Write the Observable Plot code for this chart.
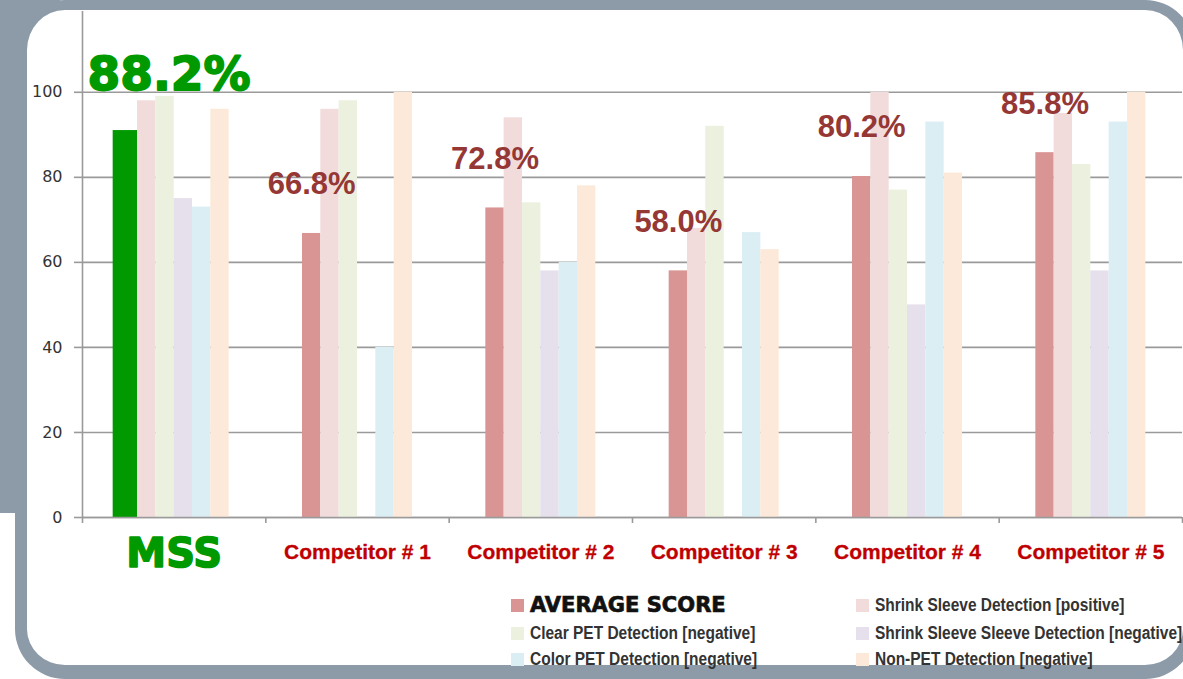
<!DOCTYPE html>
<html>
<head>
<meta charset="utf-8">
<script src="https://cdn.jsdelivr.net/npm/d3@7"></script>
<script src="https://cdn.jsdelivr.net/npm/@observablehq/plot@0.6"></script>
<style>
  html, body { margin: 0; padding: 0; background: #fff; }
  #page { position: relative; width: 1183px; height: 679px; overflow: hidden; background: #fff; }
  #block { position: absolute; left: 0; top: 0; width: 60px; height: 513px; background: #8d9ba8; }
  #panel { position: absolute; left: 15px; top: 0; width: 1180px; height: 679px; box-sizing: border-box;
           border: 12px solid #8d9ba8; border-top-width: 10px; border-bottom-width: 14px;
           border-radius: 50px; background: #fff; }
  #chart { position: absolute; left: 0; top: 0; }
  #legend { position: absolute; left: 0; top: 0; width: 1183px; height: 679px; pointer-events: none; }
  .item { position: absolute; display: flex; align-items: center; height: 22px; white-space: nowrap;
          font-family: "Liberation Sans", Arial, sans-serif; font-weight: bold;
          font-size: 18px; color: #333; }
  .item .tx { display: inline-block; transform: scaleX(0.86); transform-origin: left center; }
  .sw { width: 13px; height: 13px; margin-right: 6px; flex: none; }
  .item.main { font-family: "DejaVu Sans", sans-serif; font-size: 21px; color: #111; -webkit-text-stroke: 0.7px #111; }
  .item.main .tx { transform: none; }
</style>
</head>
<body>
<div id="page">
  <div id="block"></div>
  <div id="panel"></div>
  <div id="chart"></div>
  <div id="legend"></div>
</div>
<script>
// ---- data ----
const categories = ["MSS", "Competitor # 1", "Competitor # 2", "Competitor # 3", "Competitor # 4", "Competitor # 5"];
const seriesNames = [
  "AVERAGE SCORE",
  "Shrink Sleeve Detection [positive]",
  "Clear PET Detection [negative]",
  "Shrink Sleeve Sleeve Detection [negative]",
  "Color PET Detection [negative]",
  "Non-PET Detection [negative]"
];
const averageScore   = [91, 66.8, 72.8, 58.0, 80.2, 85.8];
const shrinkPositive = [98, 96, 94, 68, 100, 95];
const clearPet       = [99, 98, 74, 92, 77, 83];
const shrinkNegative = [75, 0, 58, 0, 50, 58];
const colorPet       = [73, 40, 60, 67, 93, 93];
const nonPet         = [96, 100, 78, 63, 81, 100];
const scoreLabels    = ["88.2%", "66.8%", "72.8%", "58.0%", "80.2%", "85.8%"];
const yTicks         = [0, 20, 40, 60, 80, 100];

// ---- styles ----
const seriesColors = ["#d99594", "#f2dcdb", "#ebf1de", "#e5e0ec", "#dbeef4", "#fde9d9"];
const mssGreen = "#009a00";
const labelRed = "#c00000";
const scoreRed = "#953735";
const gridGray = "#9a9a9a";

const seriesValues = [averageScore, shrinkPositive, clearPet, shrinkNegative, colorPet, nonPet];
const nSeries = seriesNames.length;
const groupPad = 0.2;                     // fraction of a category left empty on each side
const barW = (1 - 2 * groupPad) / nSeries;

const rows = [];
categories.forEach((cat, ci) => {
  seriesNames.forEach((s, si) => {
    rows.push({
      cat, ci, si, series: s,
      value: seriesValues[si][ci],
      key: (ci === 0 && si === 0) ? "MSS" : s
    });
  });
});
const x1 = d => d.ci + groupPad + d.si * barW;
const x2 = d => d.ci + groupPad + (d.si + 1) * barW;
const isMssAvg = d => d.ci === 0 && d.si === 0;

const labelRows = categories.map((cat, ci) => ({ci, cat, label: scoreLabels[ci], value: averageScore[ci]}));

const chart = Plot.plot({
  width: 1183,
  height: 580,
  marginLeft: 82,
  marginRight: 1,
  marginTop: 11,
  marginBottom: 63,
  x: {type: "linear", domain: [0, categories.length]},
  y: {domain: [0, 119]},
  color: {domain: [...seriesNames, "MSS"], range: [...seriesColors, mssGreen]},
  style: {background: "transparent", overflow: "visible"},
  marks: [
    Plot.gridY(yTicks, {stroke: gridGray, strokeOpacity: 1, strokeWidth: 1.6}),
    Plot.rectY(rows.filter(d => d.value > 0 && !isMssAvg(d)), {x1, x2, y: "value", fill: "key"}),
    Plot.rectY(rows.filter(isMssAvg), {x1, x2, y: "value", fill: "key", insetLeft: -6}),
    Plot.ruleY([0], {stroke: gridGray, strokeWidth: 1.6}),
    Plot.ruleX([0], {y1: 0, y2: 119, stroke: gridGray, strokeWidth: 1.6}),
    Plot.axisY(yTicks, {tickSize: 8, tickPadding: 12, stroke: gridGray, strokeWidth: 1.6, label: null,
      fill: "#333", fontSize: 16, fontFamily: "DejaVu Sans", tickFormat: d => String(d)}),
    Plot.axisX(d3.range(categories.length + 1), {tickSize: 6, stroke: gridGray, strokeWidth: 1.6,
      label: null, tickFormat: () => ""}),
    // category labels
    Plot.text(labelRows.filter(d => d.ci > 0), {x: d => d.ci + 0.5, y: 0, text: "cat", dy: 41, lineAnchor: "bottom",
      fill: labelRed, stroke: labelRed, strokeWidth: 0.3, fontSize: 21, fontWeight: "bold", fontFamily: "Liberation Sans"}),
    Plot.text(labelRows.filter(d => d.ci === 0), {x: d => d.ci + 0.5, y: 0, text: "cat", dy: 49, lineAnchor: "bottom",
      fill: mssGreen, stroke: mssGreen, strokeWidth: 1.6, fontSize: 40, fontWeight: "bold", fontFamily: "DejaVu Sans"}),
    // score labels
    Plot.text(labelRows.filter(d => d.ci > 0), {x: d => d.ci + groupPad + barW / 2, y: "value", text: "label",
      dy: -39, lineAnchor: "bottom", fill: scoreRed, fontSize: 31, fontWeight: "bold", fontFamily: "Liberation Sans"}),
    Plot.text(labelRows.filter(d => d.ci === 0), {x: 0, y: 100, text: "label", dx: 5, dy: -2, textAnchor: "start",
      lineAnchor: "bottom", fill: mssGreen, stroke: mssGreen, strokeWidth: 1.8, fontSize: 47, fontWeight: "bold",
      fontFamily: "DejaVu Sans"})
  ]
});
document.getElementById("chart").appendChild(chart);

// ---- legend ----
const legendPos = [
  {left: 511, top: 605}, {left: 856, top: 605},
  {left: 511, top: 633}, {left: 856, top: 633},
  {left: 511, top: 659}, {left: 856, top: 659}
];
const legend = document.getElementById("legend");
seriesNames.forEach((s, i) => {
  const it = document.createElement("div");
  it.className = "item" + (i === 0 ? " main" : "");
  it.style.left = legendPos[i].left + "px";
  it.style.top = (legendPos[i].top - 11) + "px";
  const sw = document.createElement("span");
  sw.className = "sw";
  sw.style.background = seriesColors[i];
  const tx = document.createElement("span");
  tx.className = "tx";
  tx.textContent = s;
  it.appendChild(sw);
  it.appendChild(tx);
  legend.appendChild(it);
});
</script>
</body>
</html>
